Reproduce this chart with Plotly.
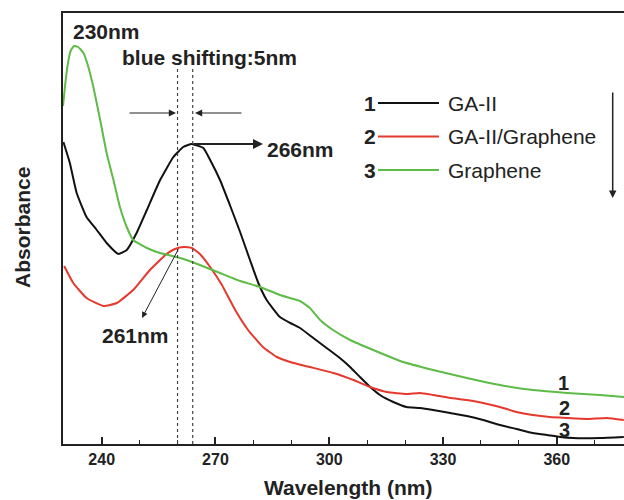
import plotly.graph_objects as go

# ---- data (wavelength nm, absorbance a.u.) ----
ga_wl = [229.9, 231.6, 233.4, 236.0, 238.7, 241.3, 244.4, 246.6, 249.2, 251.9, 255.4, 258.9,
         261.5, 263.7, 266.8, 268.6, 271.2, 273.8, 276.5, 279.1, 281.3, 283.5, 287.0, 289.7,
         292.3, 295.8, 299.3, 302.8, 305.5, 308.1, 310.8, 313.4, 316.9, 320.4, 323.9, 327.4,
         331.9, 336.3, 340.6, 345.0, 349.4, 353.7, 357.4, 360.9, 364.3, 371.4, 377.7]
ga_abs = [3.02, 2.81, 2.51, 2.27, 2.14, 2.01, 1.90, 1.94, 2.11, 2.34, 2.64, 2.87,
          2.97, 3.00, 2.96, 2.84, 2.64, 2.39, 2.12, 1.84, 1.61, 1.44, 1.27, 1.21,
          1.16, 1.06, 0.96, 0.86, 0.77, 0.67, 0.57, 0.49, 0.42, 0.37, 0.36, 0.34,
          0.31, 0.28, 0.24, 0.19, 0.15, 0.11, 0.09, 0.07, 0.06, 0.06, 0.07]

gag_wl = [230.1, 232.5, 236.0, 240.4, 244.0, 248.3, 252.7, 257.1, 259.3, 261.7, 263.8, 265.9,
          268.6, 271.7, 275.2, 278.6, 282.5, 286.2, 289.7, 294.9, 301.1, 306.4, 310.8, 315.2,
          320.4, 323.9, 327.4, 331.9, 336.3, 340.6, 345.0, 349.4, 353.7, 358.2, 362.6, 367.9,
          373.2, 377.7]
gag_abs = [1.78, 1.61, 1.46, 1.38, 1.41, 1.54, 1.74, 1.90, 1.95, 1.97, 1.96, 1.90,
           1.77, 1.59, 1.34, 1.14, 0.97, 0.87, 0.82, 0.77, 0.71, 0.64, 0.57, 0.52,
           0.50, 0.51, 0.49, 0.46, 0.44, 0.41, 0.37, 0.32, 0.29, 0.27, 0.26, 0.25,
           0.26, 0.24]

gr_wl = [229.8, 230.3, 231.1, 231.9, 232.7, 233.8, 235.2, 236.4, 237.8, 239.6, 241.3, 243.1,
         244.8, 246.6, 248.3, 251.9, 255.4, 260.7, 265.9, 271.2, 276.5, 281.8, 287.0, 292.3,
         294.9, 297.6, 301.0, 305.5, 311.6, 318.7, 327.4, 336.3, 345.0, 353.7, 362.7, 371.4,
         377.8]
gr_abs = [3.38, 3.57, 3.81, 3.94, 3.98, 3.97, 3.91, 3.78, 3.57, 3.24, 2.91, 2.64,
          2.37, 2.17, 2.04, 1.96, 1.91, 1.86, 1.79, 1.71, 1.63, 1.57, 1.49, 1.43,
          1.36, 1.24, 1.14, 1.04, 0.94, 0.83, 0.74, 0.66, 0.59, 0.54, 0.51, 0.49,
          0.47]

series_names = ["GA-II", "GA-II/Graphene", "Graphene"]
series_nums = ["1", "2", "3"]
tick_vals = [240, 270, 300, 330, 360]
tick_text = ["240", "270", "300", "330", "360"]
peak_lines = [260.0, 264.0]

BLACK = "#111111"
RED = "#e5392e"
GREEN = "#5dbb46"
colors = [BLACK, RED, GREEN]
FONT = "Liberation Sans"
TXT = "#222222"

# reference-pixel -> data helpers for annotation placement
def X(px):
    return 240 + (px - 101.7) / 3.792

def Y(py):
    return (444 - py) / 100.0

fig = go.Figure()
for wl, ab, c, n in [(ga_wl, ga_abs, BLACK, series_names[0]),
                     (gag_wl, gag_abs, RED, series_names[1]),
                     (gr_wl, gr_abs, GREEN, series_names[2])]:
    fig.add_trace(go.Scatter(x=wl, y=ab, mode="lines", name=n,
                             line=dict(color=c, width=2, shape="spline", smoothing=0.4),
                             showlegend=False, hoverinfo="skip"))

shapes = []
for v in peak_lines:
    shapes.append(dict(type="line", xref="x", yref="y", x0=v, x1=v, y0=0, y1=Y(66),
                       line=dict(color="#444444", width=1.2, dash="dot")))
leg_y = [103, 136.5, 170]
for yy, c in zip(leg_y, colors):
    shapes.append(dict(type="line", xref="x", yref="y", x0=X(378), x1=X(439), y0=Y(yy), y1=Y(yy),
                       line=dict(color=c, width=2)))

ann = []
def txt(px, py, s, size, bold=True, xanchor="left", color=TXT, angle=0):
    # positions relative to plot area (reference pixels: x 63..624, y 13..444)
    ann.append(dict(x=(px - 63) / 561.0, y=(444 - py) / 431.0, xref="paper", yref="paper",
                    text=s, showarrow=False, xanchor=xanchor, yanchor="middle", textangle=angle,
                    font=dict(family=FONT, size=size, color=color,
                              weight="bold" if bold else "normal")))

def arrow(x0, y0, x1, y1, width=1.2, head=2, size=1.2, color=TXT):
    ann.append(dict(x=X(x1), y=Y(y1), ax=X(x0), ay=Y(y0), xref="x", yref="y",
                    axref="x", ayref="y", text="", showarrow=True, arrowhead=head,
                    arrowsize=size, arrowwidth=width, arrowcolor=color))

txt(71, 32, "230nm", 21)
txt(120, 57, "blue shifting:5nm", 21)
txt(265, 150, "266nm", 21)
txt(100, 335, "261nm", 21)

arrow(128, 113, 176, 113, width=1.2)
arrow(243, 113, 195, 113, width=1.2)
arrow(192, 144, 263, 144, width=2, size=1.0)
arrow(179, 248, 142, 318, width=1.0)
arrow(612.7, 91, 612.7, 198, width=1.5, size=1.0)

for yy, num, name in zip(leg_y, series_nums, series_names):
    txt(378, yy, num, 21, xanchor="right")
    txt(446, yy, name, 21, bold=False)

txt(563, 383, "1", 20, xanchor="center")
txt(564, 408, "2", 20, xanchor="center")
txt(564, 430, "3", 20, xanchor="center")

txt(348, 487, "Wavelength (nm)", 21, xanchor="center")
txt(22, 228, "Absorbance", 21, xanchor="center", angle=-90)

fig.update_layout(
    width=624, height=500,
    margin=dict(l=63, r=0, t=13, b=56, autoexpand=False),
    paper_bgcolor="white", plot_bgcolor="white",
    shapes=shapes, annotations=ann, hovermode=False,
    font=dict(family=FONT, color=TXT),
    xaxis=dict(range=[X(63), X(624)], showgrid=False, zeroline=False, automargin=False,
               showline=True, linecolor=TXT, linewidth=1.5, mirror=True,
               ticks="inside", ticklen=7, tickwidth=1.5, tickcolor=TXT,
               tickvals=tick_vals, ticktext=tick_text,
               tickfont=dict(family=FONT, size=16, color=TXT, weight="bold"),
               minor=dict(ticks="inside", ticklen=4, tickwidth=1.2, tickcolor=TXT, dtick=10, tick0=230)),
    yaxis=dict(range=[0, 4.31], showgrid=False, zeroline=False, showticklabels=False,
               automargin=False, showline=True, linecolor=TXT, linewidth=1.5, ticks=""),
)

fig.write_html("out.html", config={"displayModeBar": False},
               post_script="document.body.style.margin='0';document.body.style.overflow='hidden';")
